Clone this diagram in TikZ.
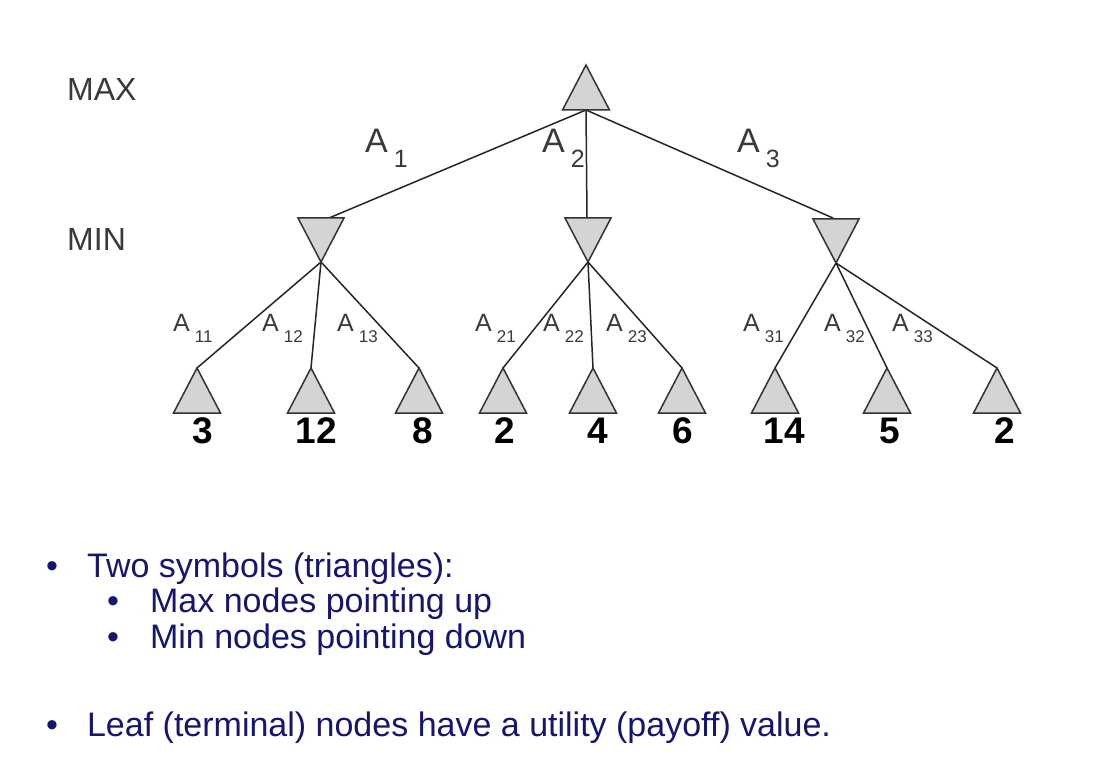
\documentclass[tikz,border=0pt]{standalone}
\usepackage{fontspec}
\setmainfont{Liberation Sans}
\definecolor{edgecol}{HTML}{262626}
\definecolor{tricol}{HTML}{333333}
\definecolor{trifill}{HTML}{D4D4D4}
\definecolor{labcol}{HTML}{3A3A3A}
\definecolor{navy}{RGB}{22,22,112}
\newcommand{\topA}[1]{A\kern6pt\raisebox{-15pt}{\fontsize{25}{25}\selectfont #1}}
\newcommand{\lowA}[1]{A\kern5pt\raisebox{-11pt}{\fontsize{17}{17}\selectfont #1}}
\begin{document}
\begin{tikzpicture}[x=1pt,y=-1pt,
  edge/.style={draw=edgecol,line width=1.5pt},
  maxtri/.style={draw=tricol,fill=trifill,line width=1.5pt,line join=miter},
  mintri/.style={draw=tricol,fill=trifill,line width=1.5pt,line join=miter},
  toplab/.style={anchor=base west,inner sep=0,text=labcol,font=\fontsize{34}{34}\selectfont},
  lowlab/.style={anchor=base west,inner sep=0,text=labcol,font=\fontsize{25}{25}\selectfont},
  lvl/.style={anchor=base west,inner sep=0,text=labcol,font=\fontsize{32}{32}\selectfont},
  val/.style={anchor=base,inner sep=0,text=black,font=\fontsize{37}{37}\selectfont\bfseries},
  bul/.style={anchor=base west,inner sep=0,text=navy,font=\fontsize{34}{40}\selectfont}]
\useasboundingbox[fill=white] (0,0) rectangle (1096,778);

% named coordinates
\coordinate (rt) at (586,65);
\coordinate (rb) at (586,110);
\coordinate (m1t) at (329,218);
\coordinate (m2t) at (587,218);
\coordinate (m3t) at (833,218);
\coordinate (m1b) at (321,262);
\coordinate (m2b) at (588,262);
\coordinate (m3b) at (836,263);
\coordinate (l1) at (197,368);
\coordinate (l2) at (311,368);
\coordinate (l3) at (419,368);
\coordinate (l4) at (503,368);
\coordinate (l5) at (593,368);
\coordinate (l6) at (682,368);
\coordinate (l7) at (775,368);
\coordinate (l8) at (887,368);
\coordinate (l9) at (997,368);

% connectors
\draw[edge] (rb) -- (m1t);
\draw[edge] (rb) -- (m2t);
\draw[edge] (rb) -- (m3t);
\draw[edge] (m1b) -- (l1);
\draw[edge] (m1b) -- (l2);
\draw[edge] (m1b) -- (l3);
\draw[edge] (m2b) -- (l4);
\draw[edge] (m2b) -- (l5);
\draw[edge] (m2b) -- (l6);
\draw[edge] (m3b) -- (l7);
\draw[edge] (m3b) -- (l8);
\draw[edge] (m3b) -- (l9);

% triangles
\draw[maxtri] (rt) -- ++(-23.5,45) -- ++(47,0) -- cycle;
\foreach \m in {m1b,m2b,m3b}
  \draw[mintri] (\m) -- ++(-23,-44) -- ++(46,0) -- cycle;
\foreach \l in {l1,l2,l3,l4,l5,l6,l7,l8,l9}
  \draw[maxtri] (\l) -- ++(-23.5,45) -- ++(47,0) -- cycle;

% level labels
\node[lvl] (max) at (67,101) {MAX};
\node[lvl] (min) at (67,251) {MIN};

% action labels
\node[toplab] (a1) at (365,153) {\topA{1}};
\node[toplab] (a2) at (542,153) {\topA{2}};
\node[toplab] (a3) at (737,153) {\topA{3}};
\node[lowlab] (a11) at (173,332) {\lowA{11}};
\node[lowlab] (a12) at (262,332) {\lowA{12}};
\node[lowlab] (a13) at (337,332) {\lowA{13}};
\node[lowlab] (a21) at (475,332) {\lowA{21}};
\node[lowlab] (a22) at (543,332) {\lowA{22}};
\node[lowlab] (a23) at (606,332) {\lowA{23}};
\node[lowlab] (a31) at (743,332) {\lowA{31}};
\node[lowlab] (a32) at (824,332) {\lowA{32}};
\node[lowlab] (a33) at (892,332) {\lowA{33}};

% leaf values
\node[val] (v1) at (202.5,443) {3};
\node[val] (v2) at (316.5,443) {12};
\node[val] (v3) at (423,443) {8};
\node[val] (v4) at (505,443) {2};
\node[val] (v5) at (598,443) {4};
\node[val] (v6) at (683,443) {6};
\node[val] (v7) at (784,443) {14};
\node[val] (v8) at (890,443) {5};
\node[val] (v9) at (1005,443) {2};

% bullet text
\node[bul] (b1) at (46,577) {•\hspace{29pt}Two symbols (triangles):};
\node[bul] (b2) at (107,612) {•\hspace{31pt}Max nodes pointing up};
\node[bul] (b3) at (107,648) {•\hspace{31pt}Min nodes pointing down};
\node[bul] (b4) at (46,736) {•\hspace{29pt}Leaf (terminal) nodes have a utility (payoff) value.};
\end{tikzpicture}
\end{document}
